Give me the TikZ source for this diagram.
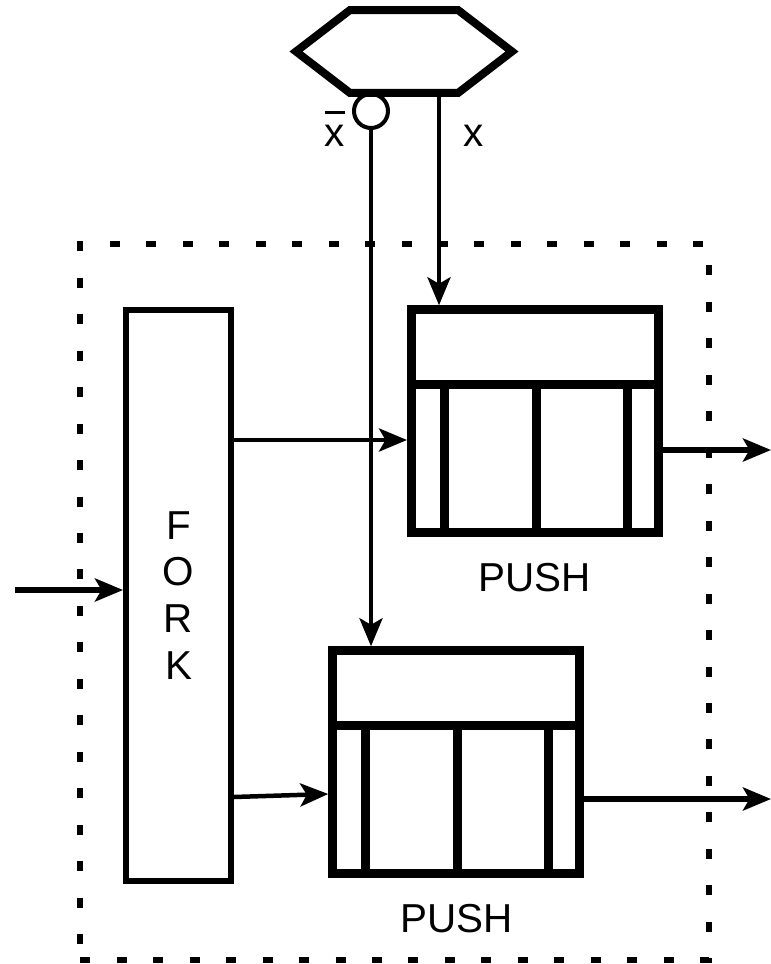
\documentclass[tikz,border=0pt]{standalone}
\usepackage{fontspec}
\setmainfont{Liberation Sans}
\usepackage{tikz}
\usetikzlibrary{
  arrows.meta,
  positioning,
  calc
}
\tikzset{
  forkbox/.style={
    draw=black,
    line width=0.12cm,
    minimum width=2.1cm,
    minimum height=11.42cm,
    inner sep=0pt,
    align=center,
    font=\fontsize{23}{26.7}\selectfont,
  },
  pushbox/.style={
    draw=black,
    line width=0.18cm,
    minimum width=4.94cm,
    minimum height=4.45cm,
    inner sep=0pt,
  },
  pushline/.style={
    line width=0.18cm,
    line cap=butt,
  },
  condbox/.style={
    minimum width=4.32cm,
    minimum height=1.66cm,
    inner sep=0pt,
    outer sep=0pt,
  },
  condline/.style={
    line width=0.16cm,
  },
  negcircle/.style={
    draw=black,
    circle,
    line width=0.08cm,
    minimum size=0.68cm,
    inner sep=0pt,
  },
  groupbox/.style={
    draw=black,
    line width=0.12cm,
    dash pattern=on 0.2cm off 0.53cm,
    minimum width=12.58cm,
    minimum height=14.32cm,
    inner sep=0pt,
  },
  lbl/.style={
    font=\fontsize{23}{27}\selectfont,
    inner sep=0pt,
  },
  arr/.style={
    -{Stealth[length=5.6mm,width=4.6mm,inset=1.3mm]},
    line width=0.09cm,
  },
  arrbold/.style={
    arr,
    line width=0.13cm,
  },
}
\newcommand{\barx}{\makebox[0pt][l]{\raisebox{0.78em}{\rule{0.4cm}{0.07cm}}}x}
\begin{document}
\begin{tikzpicture}[
  x=0.02cm, y=-0.02cm,
]
  \useasboundingbox (0,0) rectangle (771,964);

  % dashed frame
  \node[groupbox] (grp) at (394.5,602) {};

  % condition hexagon with its negated output
  \node[condbox] (cond) at (404,51.5) {};
  \draw[condline] (cond.west) -- ($(cond.north west)+(54,0)$)
    -- ($(cond.north east)+(-54,0)$) -- (cond.east)
    -- ($(cond.south east)+(-54,0)$) -- ($(cond.south west)+(54,0)$) -- cycle;
  \node[negcircle] (neg) at (371,111) {};
  \node[lbl, anchor=base] (xbar) at (335,146) {\barx};
  \node[lbl, anchor=base] (xlab) at (474,146) {x};

  % fork and the two push blocks
  \node[forkbox] (fork) at (178.5,595.5) {F\\O\\R\\K};
  \node[pushbox] (pushA) at (535,421) {};
  \node[pushbox] (pushB) at (456.25,762) {};
  \node[lbl] (labA) at ($(pushA.south)+(0,41)$) {PUSH};
  \node[lbl] (labB) at ($(pushB.south)+(0,41)$) {PUSH};

  \foreach \b in {pushA,pushB}{
    \draw[pushline] ($(\b.north west)+(0,79.5)$) -- ($(\b.north east)+(0,79.5)$);
    \foreach \dx in {37.5,129,220}
      \draw[pushline] ($(\b.north west)+(\dx,79.5)$) -- ($(\b.south west)+(\dx,0)$);
  }

  % connectors
  \coordinate (in) at (15,590);
  \coordinate (outA) at (771,450);
  \coordinate (outB) at (771,799);

  \draw[arrbold] (in) -- (in -| fork.west);
  \draw[arr] (fork.east |- 0,440) -- (pushA.west |- 0,440);
  \draw[arr] (fork.east |- 0,797) -- (pushB.west |- 0,794);
  \draw[arrbold] (pushA.east |- outA) -- (outA);
  \draw[arrbold] (pushB.east |- outB) -- (outB);

  \draw[arr] (cond.south -| 439,0) -- (pushA.north -| 439,0);
  \draw[arr] (neg.south) -- (neg.south |- pushB.north);
\end{tikzpicture}
\end{document}
